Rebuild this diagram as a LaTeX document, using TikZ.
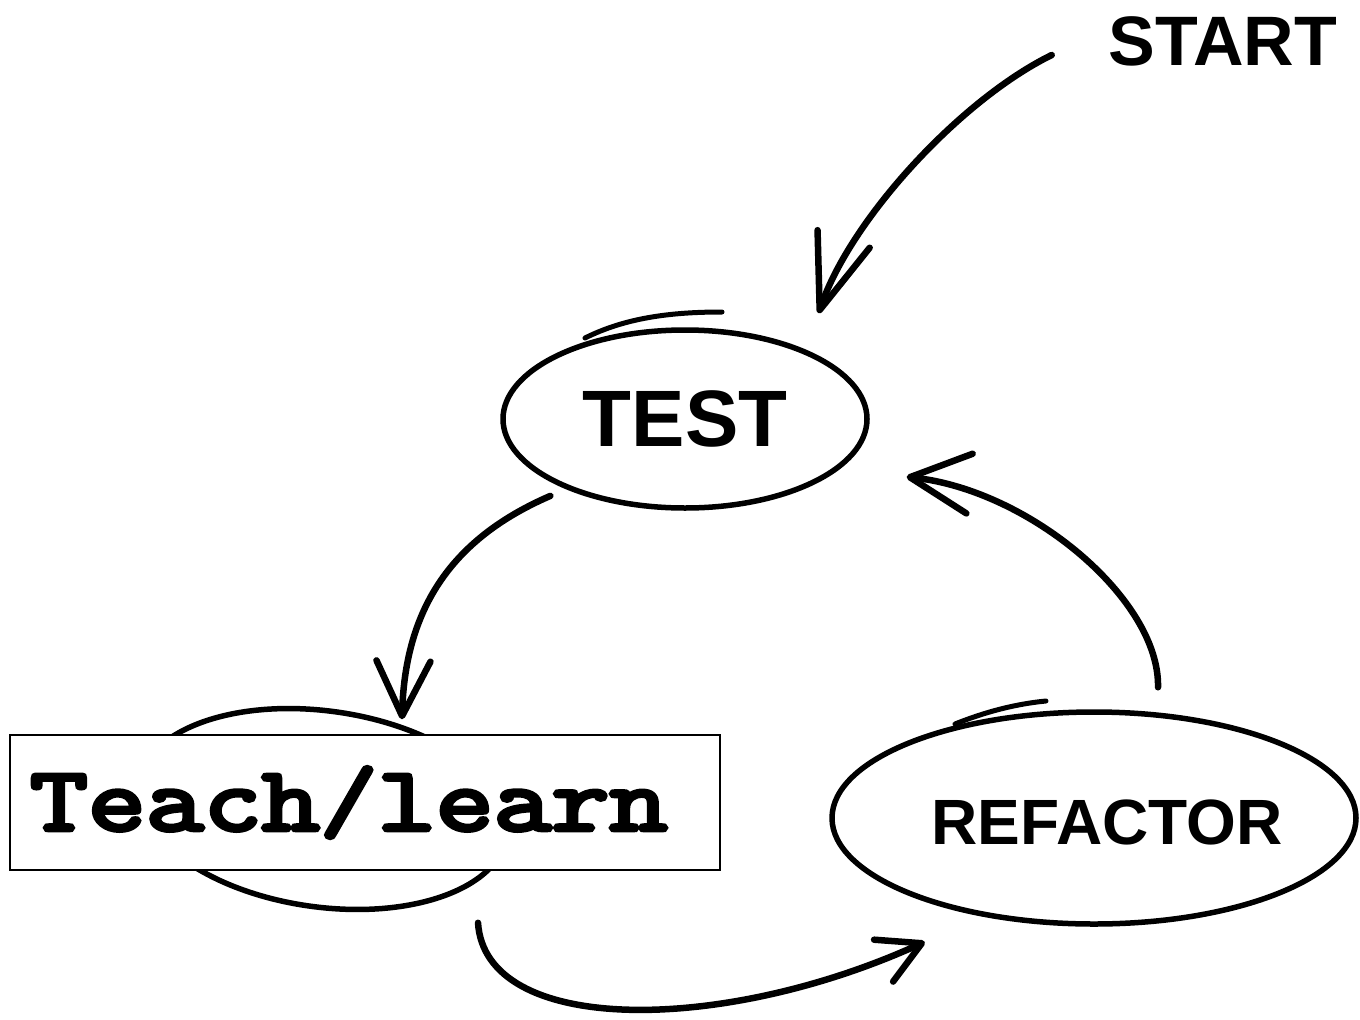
\documentclass[tikz,border=0pt]{standalone}
\usepackage{fontspec}
\setmainfont{Liberation Sans}
\newfontfamily\courbold{lmmono10-regular.otf}[FakeBold=4]
\usetikzlibrary{arrows.meta,shapes.geometric}
\begin{document}
\begin{tikzpicture}[x=1pt,y=-1pt,
  ell/.style={draw, ellipse, line width=5.5pt, inner sep=0pt},
  handtext/.style={inner sep=0pt, font=\bfseries},
  arr/.style={line width=6.5pt, line cap=round, line join=round},
  overstroke/.style={line width=5pt, line cap=round},
  box/.style={draw, fill=white, line width=1.5pt, inner xsep=20pt, inner ysep=0pt,
    text width=670pt, minimum height=135pt, align=left,
    font=\courbold\fontsize{92}{92}\selectfont}]
\useasboundingbox (0,0) rectangle (1360,1020);

% states
\node[handtext, font=\bfseries\fontsize{70}{70}\selectfont] (start) at (1223,41) {START};
\node[ell, minimum width=364pt, minimum height=178pt,
  font=\bfseries\fontsize{80}{80}\selectfont] (test) at (685,419) {TEST};
\draw[overstroke] (585,338) .. controls (625,318) and (670,312) .. (722,312);
\node[ell, minimum width=372pt, minimum height=196pt, rotate=-8] (teachell) at (323,809) {};
\node[ell, minimum width=524pt, minimum height=212pt] (refactor) at (1094,818) {};
\draw[overstroke] (955,724) .. controls (985,712) and (1015,704) .. (1046,701);
\node[handtext, font=\bfseries\fontsize{64}{64}\selectfont] (refactorlbl) at (1107,822) {REFACTOR};

% Teach/learn box on top of its ellipse
\node[box] (teach) at (365,802.5) {\scalebox{1.2}[1]{Teach/learn}};

% connectors
\draw[arr, -{Straight Barb[length=75pt,width=55pt,round]}]
  ([shift={(-57,14)}]start.west) .. controls (960,100) and (850,220) .. ([shift={(3,-41)}]test.north east);
\draw[arr, -{Straight Barb[length=55pt,width=54pt,round]}]
  ([shift={(-4,12)}]test.south west) .. controls (460,535) and (405,600) .. ([shift={(37,-15)}]teach.north);
\draw[arr, -{Straight Barb[length=60pt,width=60pt,round]}]
  ([shift={(64,-22)}]refactor.north) .. controls (1160,600) and (1030,490) .. ([shift={(91,-7)}]test.south east);
\draw[arr, -{Straight Barb[length=42pt,width=46pt,round]}]
  ([shift={(113,52)}]teach.south) .. controls (485,1035) and (720,1035) .. ([shift={(18,47)}]refactor.south west);
\end{tikzpicture}
\end{document}
